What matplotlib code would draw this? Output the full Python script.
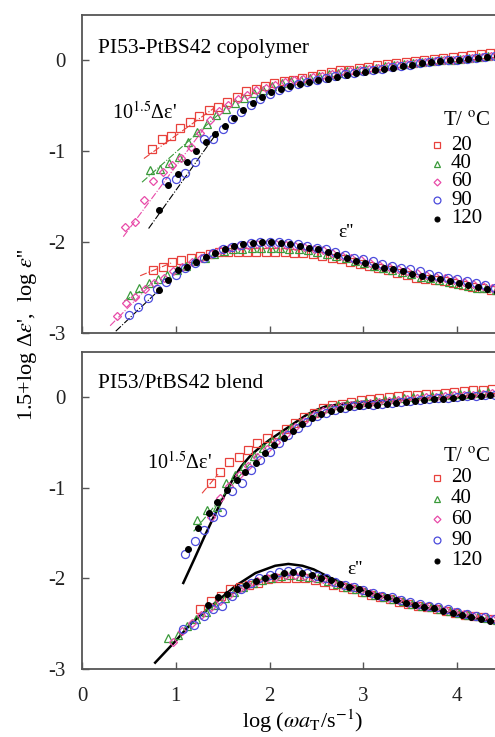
import matplotlib
matplotlib.use("Agg")
import matplotlib.pyplot as plt

plt.rcParams["font.family"] = ["Liberation Serif", "DejaVu Serif"]
plt.rcParams["mathtext.fontset"] = "stix"
plt.rcParams["axes.unicode_minus"] = False

temps = ["20", "40", "60", "90", "120"]
colors = ["#e8413c", "#3a9a3a", "#e84aa8", "#4b4bdc", "#000000"]
markers = ["s", "^", "D", "o", "o"]

# ---- PI53-PtBS42 copolymer: 1.5 + log(delta eps')
cop_de_x = {
    "20": [0.75, 0.85, 0.95, 1.05, 1.15, 1.25, 1.35, 1.45, 1.55, 1.65, 1.75, 1.85, 1.95, 2.05, 2.15,
           2.25, 2.35, 2.45, 2.55, 2.65, 2.75, 2.85, 2.95, 3.05, 3.15, 3.25, 3.35, 3.45, 3.55, 3.65,
           3.75, 3.85, 3.95, 4.05, 4.15, 4.25, 4.35, 4.45],
    "40": [0.73, 0.83, 0.93, 1.03, 1.13, 1.23, 1.33, 1.43, 1.53, 1.63, 1.73, 1.83, 1.93, 2.03, 2.13,
           2.23, 2.33, 2.43, 2.53, 2.63, 2.73, 2.83, 2.93, 3.03, 3.13, 3.23, 3.33, 3.43, 3.53, 3.63,
           3.73, 3.83, 3.93, 4.03, 4.13, 4.23, 4.33, 4.43],
    "60": [0.46, 0.56, 0.66, 0.76, 0.86, 0.96, 1.06, 1.16, 1.26, 1.36, 1.46, 1.56, 1.66, 1.76, 1.86,
           1.96, 2.06, 2.16, 2.26, 2.36, 2.46, 2.56, 2.66, 2.76, 2.86, 2.96, 3.06, 3.16, 3.26, 3.36,
           3.46, 3.56, 3.66, 3.76, 3.86, 3.96, 4.06, 4.16, 4.26, 4.36],
    "90": [0.90, 1.00, 1.10, 1.20, 1.30, 1.40, 1.50, 1.60, 1.70, 1.80, 1.90, 2.00, 2.10, 2.20, 2.30,
           2.40, 2.50, 2.60, 2.70, 2.80, 2.90, 3.00, 3.10, 3.20, 3.30, 3.40, 3.50, 3.60, 3.70, 3.80,
           3.90, 4.00, 4.10, 4.20, 4.30, 4.40],
    "120": [0.82, 0.92, 1.02, 1.12, 1.22, 1.32, 1.42, 1.52, 1.62, 1.72, 1.82, 1.92, 2.02, 2.12, 2.22,
            2.32, 2.42, 2.52, 2.62, 2.72, 2.82, 2.92, 3.02, 3.12, 3.22, 3.32, 3.42, 3.52, 3.62, 3.72,
            3.82, 3.92, 4.02, 4.12, 4.22, 4.32, 4.42],
}
cop_de_y = {
    "20": [-0.97, -0.86, -0.83, -0.74, -0.68, -0.61, -0.55, -0.51, -0.46, -0.40, -0.34, -0.31, -0.28,
           -0.25, -0.23, -0.21, -0.19, -0.17, -0.15, -0.13, -0.11, -0.10, -0.08, -0.07, -0.05, -0.04,
           -0.03, -0.02, -0.01, 0.01, 0.02, 0.03, 0.04, 0.05, 0.06, 0.07, 0.08, 0.09],
    "40": [-1.21, -1.19, -1.13, -1.06, -0.90, -0.79, -0.70, -0.60, -0.53, -0.47, -0.41, -0.36, -0.32,
           -0.28, -0.25, -0.23, -0.21, -0.19, -0.17, -0.15, -0.14, -0.12, -0.10, -0.09, -0.08, -0.06,
           -0.05, -0.04, -0.03, -0.02, -0.01, 0.0, 0.01, 0.02, 0.03, 0.04, 0.05, 0.06],
    "60": [-1.83, -1.78, -1.54, -1.33, -1.23, -1.15, -1.07, -0.95, -0.80, -0.66, -0.56, -0.49, -0.43,
           -0.38, -0.33, -0.30, -0.27, -0.24, -0.22, -0.20, -0.18, -0.17, -0.15, -0.13, -0.12, -0.10,
           -0.09, -0.08, -0.06, -0.05, -0.04, -0.03, -0.02, -0.01, 0.0, 0.01, 0.02, 0.03, 0.04, 0.05],
    "90": [-1.33, -1.30, -1.24, -1.12, -0.86, -0.86, -0.75, -0.65, -0.57, -0.49, -0.42, -0.37, -0.33,
           -0.29, -0.26, -0.24, -0.21, -0.19, -0.17, -0.15, -0.14, -0.12, -0.10, -0.09, -0.07, -0.06,
           -0.05, -0.03, -0.02, -0.01, 0.0, 0.01, 0.02, 0.03, 0.04, 0.05],
    "120": [-1.65, -1.37, -1.25, -1.12, -1.00, -0.90, -0.81, -0.72, -0.63, -0.55, -0.47, -0.40, -0.35,
            -0.31, -0.28, -0.26, -0.24, -0.22, -0.20, -0.18, -0.16, -0.14, -0.13, -0.11, -0.09, -0.08,
            -0.06, -0.05, -0.03, -0.02, -0.01, 0.0, 0.01, 0.02, 0.03, 0.04, 0.05],
}
# dash-dot guide lines through the low-frequency delta eps' data
cop_de_fit_x = {"20": [0.66, 1.40], "40": [0.64, 1.45], "60": [0.44, 1.30], "120": [0.71, 1.45]}
cop_de_fit_y = {"20": [-1.08, -0.53], "40": [-1.34, -0.60], "60": [-1.94, -0.75], "120": [-1.85, -0.78]}

# ---- copolymer: log eps''
cop_eps_x = {
    "20": [0.76, 0.86, 0.96, 1.06, 1.16, 1.26, 1.36, 1.46, 1.56, 1.66, 1.76, 1.86, 1.96, 2.06, 2.16,
           2.26, 2.36, 2.46, 2.56, 2.66, 2.76, 2.86, 2.96, 3.06, 3.16, 3.26, 3.36, 3.46, 3.56, 3.66,
           3.76, 3.86, 3.96, 4.06, 4.16, 4.26, 4.36],
    "40": [0.51, 0.61, 0.71, 0.81, 0.91, 1.01, 1.11, 1.21, 1.31, 1.41, 1.51, 1.61, 1.71, 1.81, 1.91,
           2.01, 2.11, 2.21, 2.31, 2.41, 2.51, 2.61, 2.71, 2.81, 2.91, 3.01, 3.11, 3.21, 3.31, 3.41,
           3.51, 3.61, 3.71, 3.81, 3.91, 4.01, 4.11, 4.21, 4.31, 4.41],
    "60": [0.37, 0.47, 0.57, 0.67, 0.77, 0.87, 0.97, 1.07, 1.17, 1.27, 1.37, 1.47, 1.57, 1.67, 1.77,
           1.87, 1.97, 2.07, 2.17, 2.27, 2.37, 2.47, 2.57, 2.67, 2.77, 2.87, 2.97, 3.07, 3.17, 3.27,
           3.37, 3.47, 3.57, 3.67, 3.77, 3.87, 3.97, 4.07, 4.17, 4.27, 4.37],
    "90": [0.50, 0.60, 0.70, 0.80, 0.90, 1.00, 1.10, 1.20, 1.30, 1.40, 1.50, 1.60, 1.70, 1.80, 1.90,
           2.00, 2.10, 2.20, 2.30, 2.40, 2.50, 2.60, 2.70, 2.80, 2.90, 3.00, 3.10, 3.20, 3.30, 3.40,
           3.50, 3.60, 3.70, 3.80, 3.90, 4.00, 4.10, 4.20, 4.30, 4.40],
    "120": [0.82, 0.92, 1.02, 1.12, 1.22, 1.32, 1.42, 1.52, 1.62, 1.72, 1.82, 1.92, 2.02, 2.12, 2.22,
            2.32, 2.42, 2.52, 2.62, 2.72, 2.82, 2.92, 3.02, 3.12, 3.22, 3.32, 3.42, 3.52, 3.62, 3.72,
            3.82, 3.92, 4.02, 4.12, 4.22, 4.32, 4.42],
}
cop_eps_y = {
    "20": [-2.31, -2.27, -2.22, -2.20, -2.17, -2.15, -2.13, -2.11, -2.11, -2.11, -2.11, -2.11, -2.11,
           -2.11, -2.11, -2.12, -2.12, -2.13, -2.15, -2.17, -2.19, -2.22, -2.24, -2.26, -2.29, -2.31,
           -2.34, -2.36, -2.39, -2.41, -2.42, -2.43, -2.45, -2.47, -2.49, -2.51, -2.53],
    "40": [-2.58, -2.51, -2.45, -2.41, -2.36, -2.31, -2.26, -2.21, -2.17, -2.13, -2.10, -2.08, -2.07,
           -2.06, -2.06, -2.06, -2.06, -2.07, -2.08, -2.09, -2.11, -2.13, -2.15, -2.18, -2.21, -2.23,
           -2.26, -2.28, -2.31, -2.33, -2.35, -2.38, -2.40, -2.42, -2.44, -2.46, -2.48, -2.50, -2.51, -2.53],
    "60": [-2.81, -2.67, -2.60, -2.52, -2.45, -2.39, -2.32, -2.27, -2.22, -2.17, -2.13, -2.09, -2.06,
           -2.04, -2.03, -2.02, -2.02, -2.02, -2.03, -2.04, -2.05, -2.07, -2.09, -2.12, -2.15, -2.18,
           -2.20, -2.23, -2.25, -2.27, -2.30, -2.32, -2.34, -2.36, -2.38, -2.40, -2.42, -2.44, -2.46,
           -2.48, -2.50],
    "90": [-2.80, -2.71, -2.62, -2.52, -2.44, -2.36, -2.29, -2.23, -2.17, -2.12, -2.08, -2.05, -2.03,
           -2.01, -2.00, -2.00, -2.00, -2.01, -2.02, -2.04, -2.06, -2.08, -2.11, -2.14, -2.17, -2.19,
           -2.21, -2.24, -2.26, -2.28, -2.30, -2.32, -2.35, -2.37, -2.39, -2.41, -2.43, -2.45, -2.47, -2.50],
    "120": [-2.53, -2.42, -2.31, -2.27, -2.22, -2.16, -2.12, -2.08, -2.04, -2.02, -2.01, -2.00, -2.00,
            -2.01, -2.02, -2.04, -2.06, -2.08, -2.11, -2.14, -2.18, -2.21, -2.23, -2.26, -2.28, -2.30,
            -2.32, -2.35, -2.37, -2.39, -2.41, -2.43, -2.45, -2.47, -2.49, -2.52, -2.55],
}
cop_eps_fit_x = {"20": [0.62, 0.95], "40": [0.45, 0.80], "60": [0.30, 0.75], "120": [0.36, 0.85]}
cop_eps_fit_y = {"20": [-2.37, -2.23], "40": [-2.65, -2.42], "60": [-2.92, -2.45], "120": [-2.98, -2.50]}

# ---- PI53/PtBS42 blend: 1.5 + log(delta eps')
bl_de_x = {
    "20": [1.37, 1.47, 1.57, 1.67, 1.77, 1.87, 1.97, 2.07, 2.17, 2.27, 2.37, 2.47, 2.57, 2.67, 2.77,
           2.87, 2.97, 3.07, 3.17, 3.27, 3.37, 3.47, 3.57, 3.67, 3.77, 3.87, 3.97, 4.07, 4.17, 4.27, 4.37],
    "40": [1.23, 1.33, 1.44, 1.53, 1.63, 1.73, 1.83, 1.93, 2.03, 2.13, 2.23, 2.33, 2.43, 2.53, 2.63,
           2.73, 2.83, 2.93, 3.03, 3.13, 3.23, 3.33, 3.43, 3.53, 3.63, 3.73, 3.83, 3.93, 4.03, 4.13,
           4.23, 4.33, 4.43],
    "60": [1.37, 1.47, 1.57, 1.67, 1.77, 1.87, 1.97, 2.07, 2.17, 2.27, 2.37, 2.47, 2.57, 2.67, 2.77,
           2.87, 2.97, 3.07, 3.17, 3.27, 3.37, 3.47, 3.57, 3.67, 3.77, 3.87, 3.97, 4.07, 4.17, 4.27, 4.37],
    "90": [1.10, 1.20, 1.30, 1.40, 1.49, 1.60, 1.71, 1.80, 1.90, 2.00, 2.10, 2.20, 2.30, 2.40, 2.50,
           2.60, 2.70, 2.80, 2.90, 3.00, 3.10, 3.20, 3.30, 3.40, 3.50, 3.60, 3.70, 3.80, 3.90, 4.00,
           4.10, 4.20, 4.30, 4.40],
    "120": [1.13, 1.24, 1.35, 1.44, 1.55, 1.65, 1.74, 1.85, 1.95, 2.05, 2.15, 2.25, 2.35, 2.45, 2.55,
            2.65, 2.75, 2.85, 2.95, 3.05, 3.15, 3.25, 3.35, 3.45, 3.55, 3.65, 3.75, 3.85, 3.95, 4.05,
            4.15, 4.25, 4.35, 4.45],
}
bl_de_y = {
    "20": [-0.95, -0.82, -0.72, -0.66, -0.58, -0.51, -0.45, -0.40, -0.35, -0.28, -0.22, -0.17, -0.12,
           -0.09, -0.07, -0.05, -0.03, -0.02, -0.01, 0.0, 0.01, 0.02, 0.03, 0.04, 0.04, 0.05, 0.06,
           0.07, 0.08, 0.08, 0.09],
    "40": [-1.35, -1.24, -1.21, -0.95, -0.86, -0.76, -0.65, -0.56, -0.48, -0.40, -0.33, -0.27, -0.21,
           -0.16, -0.12, -0.09, -0.07, -0.06, -0.05, -0.04, -0.03, -0.02, -0.01, 0.0, 0.01, 0.01, 0.02,
           0.03, 0.04, 0.04, 0.05, 0.06, 0.06],
    "60": [-1.32, -1.11, -0.98, -0.86, -0.76, -0.66, -0.57, -0.49, -0.41, -0.33, -0.26, -0.20, -0.15,
           -0.12, -0.10, -0.08, -0.07, -0.06, -0.05, -0.04, -0.03, -0.02, -0.01, 0.0, 0.0, 0.01, 0.02,
           0.03, 0.03, 0.04, 0.05],
    "90": [-1.73, -1.59, -1.46, -1.32, -1.27, -1.04, -0.95, -0.80, -0.69, -0.60, -0.50, -0.42, -0.34,
           -0.27, -0.21, -0.17, -0.14, -0.12, -0.10, -0.09, -0.08, -0.07, -0.06, -0.05, -0.04, -0.03,
           -0.02, -0.01, -0.01, 0.0, 0.01, 0.01, 0.02, 0.03],
    "120": [-1.68, -1.44, -1.28, -1.16, -1.02, -0.91, -0.82, -0.73, -0.62, -0.53, -0.45, -0.37, -0.29,
            -0.23, -0.18, -0.15, -0.13, -0.11, -0.10, -0.09, -0.08, -0.07, -0.06, -0.05, -0.04, -0.03,
            -0.02, -0.02, -0.01, 0.0, 0.01, 0.01, 0.02, 0.02],
}
bl_de_fit_x = {"20": [1.28, 1.45], "40": [1.19, 2.00]}
bl_de_fit_y = {"20": [-1.06, -0.85], "40": [-1.48, -0.47]}
# theoretical curve (solid black)
bl_de_theo_x = [1.08, 1.2, 1.3, 1.4, 1.5, 1.6, 1.7, 1.8, 1.9, 2.0, 2.1, 2.2, 2.3, 2.4, 2.5, 2.6,
                2.8, 3.0, 3.3, 3.6, 4.0, 4.5]
bl_de_theo_y = [-2.05, -1.78, -1.55, -1.33, -1.12, -0.92, -0.76, -0.64, -0.55, -0.47, -0.40, -0.33,
                -0.26, -0.19, -0.14, -0.10, -0.07, -0.05, -0.03, -0.02, 0.0, 0.02]

# ---- blend: log eps''
bl_eps_x = {
    "20": [1.26, 1.37, 1.48, 1.58, 1.68, 1.78, 1.88, 1.98, 2.08, 2.18, 2.28, 2.38, 2.48, 2.58, 2.68,
           2.78, 2.88, 2.98, 3.08, 3.18, 3.28, 3.38, 3.48, 3.58, 3.68, 3.78, 3.88, 3.98, 4.08, 4.18,
           4.28, 4.38],
    "40": [0.92, 1.02, 1.12, 1.22, 1.32, 1.42, 1.52, 1.62, 1.72, 1.82, 1.92, 2.02, 2.12, 2.22, 2.32,
           2.42, 2.52, 2.62, 2.72, 2.82, 2.92, 3.02, 3.12, 3.22, 3.32, 3.42, 3.52, 3.62, 3.72, 3.82,
           3.92, 4.02, 4.12, 4.22, 4.32, 4.42],
    "60": [0.97, 1.07, 1.17, 1.27, 1.37, 1.47, 1.57, 1.67, 1.77, 1.87, 1.97, 2.07, 2.17, 2.27, 2.37,
           2.47, 2.57, 2.67, 2.77, 2.87, 2.97, 3.07, 3.17, 3.27, 3.37, 3.47, 3.57, 3.67, 3.77, 3.87,
           3.97, 4.07, 4.17, 4.27, 4.37],
    "90": [1.08, 1.19, 1.30, 1.40, 1.49, 1.60, 1.70, 1.80, 1.89, 2.00, 2.10, 2.20, 2.30, 2.40, 2.50,
           2.60, 2.70, 2.80, 2.90, 3.00, 3.10, 3.20, 3.30, 3.40, 3.50, 3.60, 3.70, 3.80, 3.90, 4.00,
           4.10, 4.20, 4.30, 4.40],
    "120": [1.34, 1.45, 1.55, 1.65, 1.75, 1.85, 1.95, 2.05, 2.15, 2.25, 2.35, 2.45, 2.55, 2.65, 2.75,
            2.85, 2.95, 3.05, 3.15, 3.25, 3.35, 3.45, 3.55, 3.65, 3.75, 3.85, 3.95, 4.05, 4.15, 4.25,
            4.35, 4.45],
}
bl_eps_y = {
    "20": [-2.34, -2.25, -2.19, -2.12, -2.09, -2.07, -2.05, -2.01, -2.00, -1.99, -1.99, -2.00, -2.02,
           -2.04, -2.07, -2.10, -2.12, -2.15, -2.18, -2.21, -2.23, -2.26, -2.28, -2.30, -2.32, -2.34,
           -2.36, -2.38, -2.40, -2.42, -2.43, -2.45],
    "40": [-2.66, -2.62, -2.53, -2.45, -2.37, -2.29, -2.22, -2.15, -2.10, -2.05, -2.02, -1.99, -1.97,
           -1.96, -1.97, -1.98, -2.00, -2.03, -2.06, -2.09, -2.12, -2.15, -2.18, -2.20, -2.23, -2.25,
           -2.28, -2.30, -2.32, -2.34, -2.36, -2.38, -2.40, -2.42, -2.44, -2.46],
    "60": [-2.70, -2.58, -2.49, -2.40, -2.32, -2.25, -2.18, -2.12, -2.07, -2.03, -2.00, -1.98, -1.96,
           -1.96, -1.97, -1.99, -2.01, -2.04, -2.07, -2.10, -2.13, -2.16, -2.19, -2.22, -2.24, -2.27,
           -2.29, -2.31, -2.33, -2.35, -2.37, -2.39, -2.41, -2.43, -2.45],
    "90": [-2.56, -2.51, -2.41, -2.34, -2.30, -2.19, -2.12, -2.05, -2.00, -1.96, -1.93, -1.92, -1.92,
           -1.94, -1.97, -2.00, -2.04, -2.07, -2.10, -2.13, -2.16, -2.19, -2.21, -2.24, -2.26, -2.28,
           -2.30, -2.32, -2.34, -2.37, -2.39, -2.41, -2.43, -2.45],
    "120": [-2.29, -2.21, -2.17, -2.12, -2.07, -2.03, -1.99, -1.97, -1.94, -1.93, -1.94, -1.96, -1.99,
            -2.02, -2.06, -2.09, -2.12, -2.16, -2.19, -2.21, -2.24, -2.27, -2.29, -2.31, -2.33, -2.36,
            -2.38, -2.40, -2.43, -2.45, -2.47, -2.49],
}
bl_eps_theo_x = [0.78, 0.98, 1.17, 1.42, 1.64, 1.85, 2.06, 2.20, 2.35, 2.47, 2.68, 2.90, 3.20, 3.60,
                 4.00, 4.50]
bl_eps_theo_y = [-2.93, -2.71, -2.49, -2.27, -2.08, -1.94, -1.86, -1.84, -1.86, -1.90, -2.01, -2.10,
                 -2.20, -2.31, -2.40, -2.50]

W, H = 495, 737
fig = plt.figure(figsize=(W / 100, H / 100), dpi=100)
fig.set(facecolor="white")
# axes run past the right edge of the picture, as in the cropped original
ax1 = fig.add_axes([82 / W, 1 - 333 / H, 469 / W, 318 / H])
ax2 = fig.add_axes([82 / W, 1 - 669 / H, 469 / W, 317 / H])


def marker_style(i):
    if temps[i] == "120":
        return dict(marker="o", ms=4.2, mfc=colors[i], mec=colors[i], mew=0.8)
    ms = {"s": 5.6, "^": 5.8, "D": 4.1, "o": 5.8}[markers[i]]
    return dict(marker=markers[i], ms=ms, mfc="none", mec=colors[i], mew=0.9)


def draw_panel(ax, de_x, de_y, eps_x, eps_y, de_fx, de_fy, eps_fx, eps_fy):
    for t, c in zip(temps, colors):
        if t in de_fx:
            ax.plot(de_fx[t], de_fy[t], ls="-.", lw=0.8, color=c)
        if t in eps_fx:
            ax.plot(eps_fx[t], eps_fy[t], ls="-.", lw=0.8, color=c)
    for i, t in enumerate(temps):
        ax.plot(de_x[t], de_y[t], ls="none", **marker_style(i))
        ax.plot(eps_x[t], eps_y[t], ls="none", **marker_style(i))


draw_panel(ax1, cop_de_x, cop_de_y, cop_eps_x, cop_eps_y,
           cop_de_fit_x, cop_de_fit_y, cop_eps_fit_x, cop_eps_fit_y)
ax2.plot(bl_de_theo_x, bl_de_theo_y, color="black", lw=1.8, zorder=1)
ax2.plot(bl_eps_theo_x, bl_eps_theo_y, color="black", lw=1.8, zorder=1)
draw_panel(ax2, bl_de_x, bl_de_y, bl_eps_x, bl_eps_y,
           bl_de_fit_x, bl_de_fit_y, {}, {})

for ax in (ax1, ax2):
    ax.set_xlim(0, 5)
    ax.set_ylim(-3, 0.5)
    ax.set_xticks([0, 1, 2, 3, 4])
    ax.set_yticks([-3, -2, -1, 0])
    ax.tick_params(direction="in", length=5, width=1, color="#555555",
                   labelsize=15, labelcolor="#222222")
    ax.tick_params(axis="y", pad=12)
    ax.tick_params(axis="x", pad=13)
    for s in ax.spines.values():
        s.set_color("#555555")
        s.set_linewidth(1.3)
ax1.tick_params(axis="x", labelbottom=False)

# legends (T / degC)
leg_layout = [(ax1, 0.664, 0.591, 0.058), (ax2, 0.666, 0.603, 0.0655)]
for ax, yh, y0, dy in leg_layout:
    ax.text(0.770, yh, "T/ $^{\\rm o}$C", transform=ax.transAxes, fontsize=15, va="center")
    for i, t in enumerate(temps):
        st = marker_style(i)
        st["ms"] = st["ms"] * 0.85
        ax.plot([0.757], [y0 - i * dy], transform=ax.transAxes, ls="none", clip_on=False, **st)
        ax.text(0.787, y0 - i * dy, t, transform=ax.transAxes, fontsize=15, va="center")

ax1.text(0.17, 0.13, "PI53-PtBS42 copolymer", fontsize=15.5, va="center")
ax2.text(0.17, 0.15, "PI53/PtBS42 blend", fontsize=15.5, va="center")
ax1.text(0.32, -0.58, "10$^{1.5}$Δε'", fontsize=14.5, va="center")
ax2.text(0.69, -0.73, "10$^{1.5}$Δε'", fontsize=14.5, va="center")
ax1.text(2.73, -1.89, "ε''", fontsize=14, va="center")
ax2.text(2.83, -1.90, "ε''", fontsize=14, va="center")

fig.text(303 / W, 1 - 721 / H, "log ($\\omega a_{\\rm T}$/s$^{-1}$)", fontsize=16,
         ha="center", va="center")
fig.text(28 / W, 1 - 335 / H, "1.5+log Δ$\\varepsilon$',  log $\\varepsilon$''", fontsize=16,
         rotation=90, ha="center", va="center")

fig.savefig("out.png", dpi=100)
